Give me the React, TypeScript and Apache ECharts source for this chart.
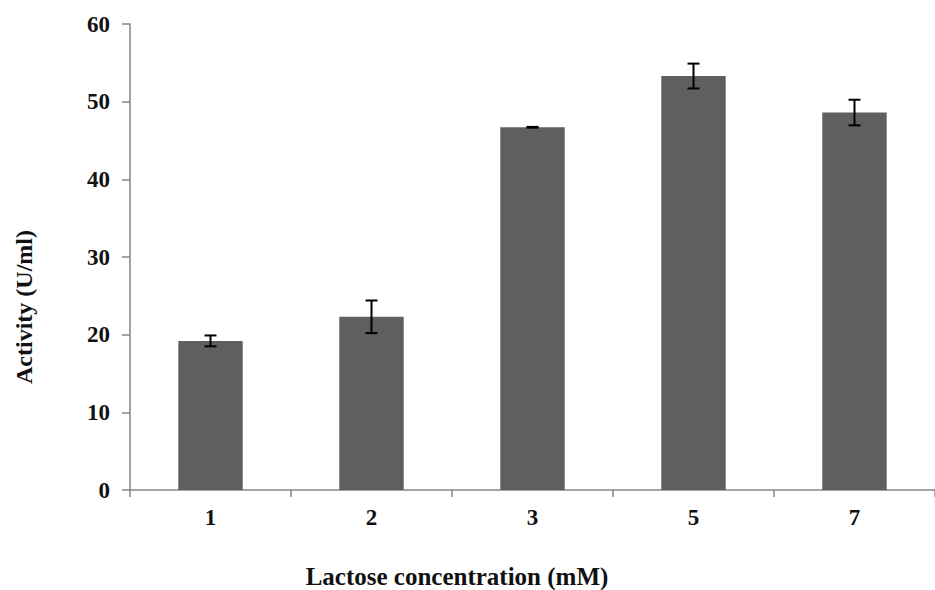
import React, { useEffect, useRef } from "react";
import * as echarts from "echarts";

const categories = ["1", "2", "3", "5", "7"];
const activity = [19.2, 22.3, 46.7, 53.3, 48.6];
const errors = [0.7, 2.1, 0.05, 1.6, 1.65];
const yTicks = { min: 0, max: 60, interval: 10 };
const xTitle = "Lactose concentration (mM)";
const yTitle = "Activity (U/ml)";

const FONT = "'Liberation Serif', 'Times New Roman', serif";

export default function App() {
  const ref = useRef<HTMLDivElement>(null);
  useEffect(() => {
    if (!ref.current) return;
    const chart = echarts.init(ref.current, undefined, { renderer: "svg" });
    const errData = categories.map((_, i) => [i, activity[i] - errors[i], activity[i] + errors[i]]);
    chart.setOption({
      animation: false,
      backgroundColor: "#ffffff",
      grid: { left: 130, right: -6, top: 24, bottom: 100, containLabel: false },
      xAxis: {
        type: "category",
        data: categories,
        axisLine: { lineStyle: { color: "#868686", width: 1.5 } },
        axisTick: { show: true, length: 7, lineStyle: { color: "#868686", width: 1.5 } },
        axisLabel: { color: "#111", fontFamily: FONT, fontWeight: "bold", fontSize: 23, margin: 16 },
      },
      yAxis: {
        type: "value",
        min: yTicks.min,
        max: yTicks.max,
        interval: yTicks.interval,
        splitLine: { show: false },
        axisLine: { show: true, lineStyle: { color: "#868686", width: 1.5 } },
        axisTick: { show: true, length: 8, lineStyle: { color: "#868686", width: 1.5 } },
        axisLabel: { color: "#111", fontFamily: FONT, fontWeight: "bold", fontSize: 23, margin: 20 },
      },
      series: [
        {
          type: "bar",
          data: activity,
          barWidth: "40%",
          itemStyle: { color: "#5f5f5f" },
        },
        {
          type: "custom",
          z: 10,
          data: errData,
          renderItem: (params: any, api: any) => {
            const idx = api.value(0);
            const lo = api.coord([idx, api.value(1)]);
            const hi = api.coord([idx, api.value(2)]);
            const hw = 6;
            const style = { stroke: "#000", lineWidth: 2 };
            return {
              type: "group",
              children: [
                { type: "line", shape: { x1: hi[0], y1: hi[1], x2: lo[0], y2: lo[1] }, style },
                { type: "line", shape: { x1: hi[0] - hw, y1: hi[1], x2: hi[0] + hw, y2: hi[1] }, style },
                { type: "line", shape: { x1: lo[0] - hw, y1: lo[1], x2: lo[0] + hw, y2: lo[1] }, style },
              ],
            };
          },
        },
      ],
      graphic: [
        {
          type: "text",
          x: 457,
          y: 576,
          style: {
            text: xTitle,
            fontFamily: FONT,
            fontWeight: "bold",
            fontSize: 25,
            fill: "#111",
            textAlign: "center",
            textVerticalAlign: "middle",
          },
        },
        {
          type: "text",
          x: 24,
          y: 307,
          rotation: Math.PI / 2,
          style: {
            text: yTitle,
            fontFamily: FONT,
            fontWeight: "bold",
            fontSize: 24,
            fill: "#111",
            textAlign: "center",
            textVerticalAlign: "middle",
          },
        },
      ],
    });
    return () => chart.dispose();
  }, []);
  return <div ref={ref} style={{ position: "fixed", left: 0, top: 0, width: 935, height: 590 }} />;
}
